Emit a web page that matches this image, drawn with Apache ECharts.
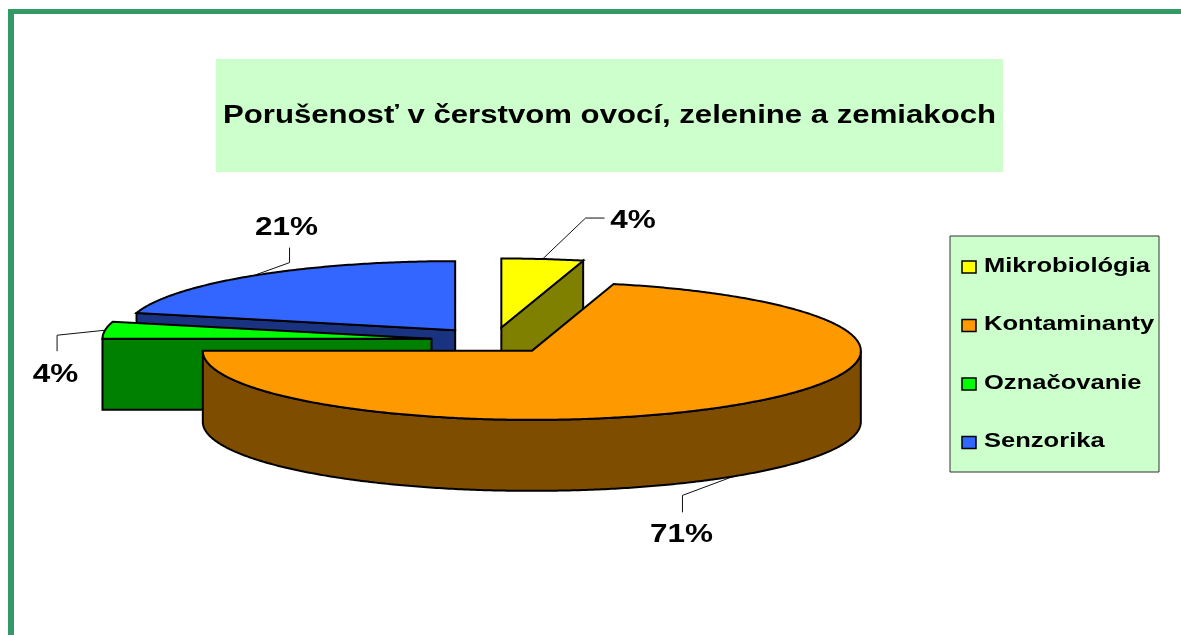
<!DOCTYPE html>
<html>
<head>
<meta charset="utf-8">
<style>html,body{margin:0;padding:0;background:#fff}#c{width:1181px;height:635px}</style>
<script src="https://cdn.jsdelivr.net/npm/echarts@6/dist/echarts.min.js"></script>
</head>
<body>
<div id="c"></div>
<script>
const titleText = 'Porušenosť v čerstvom ovocí, zelenine a zemiakoch';
const categories = ['Mikrobiológia', 'Kontaminanty', 'Označovanie', 'Senzorika'];
const shares = [4, 71, 4, 21];
const labels = ['4%', '71%', '4%', '21%'];

const topColors = ['#FFFF00', '#FF9900', '#00FF00', '#3366FF'];
const wallColors = ['#808000', '#7F4D00', '#008000', '#1A3380'];
const drawOrder = [3, 0, 2, 1];
const family = '"Liberation Sans", Arial, sans-serif';

const pie = { cx: 493.5, cy: 340.5, rx: 329, ry: 69, depth: 71, explode: 0.19 };
// leader elbow and label placement, relative to the rim anchor of each slice
const leaders = [
  { elbow: [[43, -41], [62, -41]], text: [90.5, -38.5] },
  { elbow: [[-51, 19], [-51, 36]], text: [-52, 58.5] },
  { elbow: [[-48, 5], [-48, 21]], text: [-49.5, 44.5] },
  { elbow: [[36, -13], [36, -28]], text: [33, -48] }
];

const measure = document.createElement('canvas').getContext('2d');
function stretchFor(text, font, width) {
  measure.font = font;
  return width / measure.measureText(text).width;
}
const labelFont = 'bold 25.5px ' + family;
const labelStretch = stretchFor('21%', labelFont, 63);
const titleFont = 'bold 25px ' + family;
const titleStretch = stretchFor(titleText, titleFont, 773);
const legendFont = 'bold 19.5px ' + family;
const legendStretch = stretchFor(categories[0], legendFont, 166);

const total = shares.reduce((a, b) => a + b, 0);
const starts = shares.map((_, i) => shares.slice(0, i).reduce((a, b) => a + b, 0));
const toAngle = v => echarts.number.linearMap(v, [0, total], [0, Math.PI * 2], false);

function renderSlice(idx) {
  return function () {
    const a0 = toAngle(starts[idx]);
    const a1 = toAngle(starts[idx] + shares[idx]);
    const mid = (a0 + a1) / 2;
    const ox = pie.cx + pie.explode * pie.rx * Math.sin(mid);
    const oy = pie.cy - pie.explode * pie.ry * Math.cos(mid);
    const rim = a => [ox + pie.rx * Math.sin(a), oy - pie.ry * Math.cos(a)];
    const down = p => [p[0], p[1] + pie.depth];
    const arc = (s, e) => {
      const n = Math.max(2, Math.ceil((e - s) / 0.01));
      const pts = [];
      for (let k = 0; k <= n; k++) pts.push(rim(s + (e - s) * k / n));
      return pts;
    };
    const stroke = { stroke: '#000', lineWidth: 2, lineJoin: 'miter' };
    const face = (points, fill) => ({
      type: 'polygon', shape: { points }, silent: true,
      style: Object.assign({ fill }, stroke)
    });
    const children = [];
    const apex = [ox, oy];
    const wall = wallColors[idx];

    const front = mid > Math.PI / 2 && mid < Math.PI * 1.5;
    const anchor = front ? down(rim(mid)) : rim(mid);
    const L = leaders[idx];
    const line = [anchor].concat(L.elbow.map(d => [anchor[0] + d[0], anchor[1] + d[1]]));
    children.push({
      type: 'polyline', shape: { points: line }, silent: true,
      style: { fill: null, stroke: '#111', lineWidth: 1 }
    });

    // only the walls that face the viewer
    if (a0 > Math.PI && a0 < Math.PI * 2) {
      const p = rim(a0);
      children.push(face([apex, p, down(p), down(apex)], wall));
    }
    if (a1 > 0 && a1 < Math.PI) {
      const p = rim(a1);
      children.push(face([apex, p, down(p), down(apex)], wall));
    }
    const fs = Math.max(a0, Math.PI / 2), fe = Math.min(a1, Math.PI * 1.5);
    if (fe > fs) {
      const rimFront = arc(fs, fe);
      children.push(face(rimFront.concat(rimFront.slice().reverse().map(down)), wall));
    }
    children.push(face([apex].concat(arc(a0, a1)), topColors[idx]));

    children.push({
      type: 'text', silent: true, z2: 6,
      x: anchor[0] + L.text[0], y: anchor[1] + L.text[1], scaleX: labelStretch,
      style: {
        text: labels[idx], x: 0, y: 0,
        fill: '#000', font: labelFont,
        textAlign: 'center', textVerticalAlign: 'middle'
      }
    });
    return { type: 'group', children };
  };
}

const series = categories.map((name, i) => ({
  type: 'custom',
  name,
  coordinateSystem: 'none',
  z: 2 + drawOrder.indexOf(i),
  itemStyle: { color: topColors[i] },
  data: [[shares[i]]],
  renderItem: renderSlice(i),
  silent: true,
  animation: false
}));

const legendGraphics = [];
categories.forEach((name, i) => {
  const rowY = 267 + i * 58.5;
  legendGraphics.push({
    type: 'rect', silent: true, z: 10,
    shape: { x: 962, y: rowY - 6, width: 14, height: 12 },
    style: { fill: topColors[i], stroke: '#000', lineWidth: 1.5 }
  });
  legendGraphics.push({
    type: 'text', silent: true, z: 10,
    x: 984, y: rowY - 0.5, scaleX: legendStretch,
    style: { text: name, x: 0, y: 0, fill: '#000', font: legendFont, textAlign: 'left', textVerticalAlign: 'middle' }
  });
});

const chart = echarts.init(document.getElementById('c'), null, { renderer: 'canvas' });
chart.setOption({
  animation: false,
  backgroundColor: '#fff',
  graphic: [
    { type: 'rect', silent: true, z: 0, shape: { x: 8, y: 9, width: 1173, height: 5 }, style: { fill: '#339966' } },
    { type: 'rect', silent: true, z: 0, shape: { x: 8, y: 9, width: 6, height: 626 }, style: { fill: '#339966' } },
    { type: 'rect', silent: true, z: 0,
      shape: { x: 216, y: 59, width: 787, height: 113 },
      style: { fill: '#CCFFCC' } },
    { type: 'text', silent: true, z: 10,
      x: 223, y: 116, scaleX: titleStretch,
      style: { text: titleText, x: 0, y: 0, fill: '#000', font: titleFont, textAlign: 'left', textVerticalAlign: 'middle' } },
    { type: 'rect', silent: true, z: 0,
      shape: { x: 950, y: 236, width: 209, height: 236 },
      style: { fill: '#CCFFCC', stroke: '#333', lineWidth: 1 } }
  ].concat(legendGraphics),
  series
});
</script>
</body>
</html>
